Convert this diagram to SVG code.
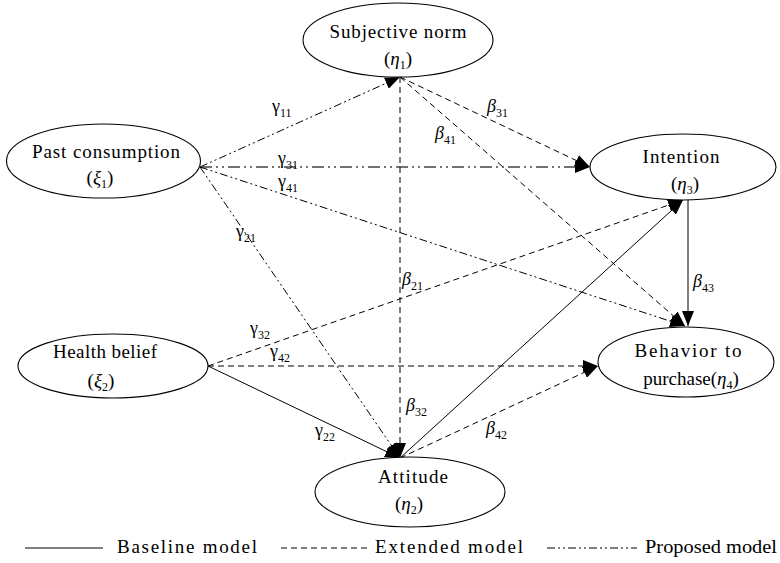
<svg xmlns="http://www.w3.org/2000/svg" width="780" height="563" viewBox="0 0 780 563">
<style>
.node ellipse{fill:#fff;stroke:#000;stroke-width:1.1}
text{font-family:"Liberation Serif","Times New Roman",serif;fill:#000}
.t{font-size:19px;text-anchor:middle}
.g{font-size:18px}
.s{font-size:12px}
.it{font-style:italic}
.c{fill:none;stroke:#000;stroke-width:1}
.solid{}
.dash{stroke-dasharray:6 4}
.dd{stroke-dasharray:8 3 2 3 2 3}
.ddh{stroke-dasharray:12 4 2 4 2 4;stroke:#444;stroke-width:1.6}
.arr{marker-end:url(#ah)}
</style>
<defs>
<marker id="ah" markerUnits="userSpaceOnUse" markerWidth="16" markerHeight="12" refX="15" refY="6" orient="auto">
<path d="M0,0 L15,6 L0,12 z" fill="#000"/>
</marker>
</defs>
<rect width="780" height="563" fill="#fff"/>

<g id="connectors">
<line class="c dd arr" x1="200" y1="167" x2="400" y2="77"/>
<line class="c ddh arr" x1="200" y1="167" x2="590" y2="167"/>
<line class="c dd arr" x1="200" y1="167" x2="685" y2="326"/>
<line class="c dd arr" x1="200" y1="167" x2="400" y2="458"/>
<line class="c dash arr" x1="400" y1="77" x2="400" y2="458"/>
<line class="c dash arr" x1="400" y1="77" x2="590" y2="167"/>
<line class="c dash arr" x1="400" y1="77" x2="685" y2="326"/>
<line class="c dash arr" x1="208" y1="366" x2="683" y2="200"/>
<line class="c dash arr" x1="208" y1="366" x2="598" y2="366"/>
<line class="c solid arr" x1="208" y1="366" x2="400" y2="458"/>
<line class="c solid arr" x1="400" y1="458" x2="683" y2="200"/>
<line class="c dash arr" x1="400" y1="458" x2="598" y2="366"/>
<line class="c solid arr" x1="688" y1="200" x2="688" y2="326"/>
</g>

<g id="labels">
<text class="g" x="272" y="112">γ<tspan class="s" dy="5">11</tspan></text>
<text class="g" x="278" y="164">γ<tspan class="s" dy="5">31</tspan></text>
<text class="g" x="278" y="187">γ<tspan class="s" dy="5">41</tspan></text>
<text class="g" x="236" y="237">γ<tspan class="s" dy="5">21</tspan></text>
<text class="g it" x="435" y="139">β<tspan class="s" dy="5" font-style="normal">41</tspan></text>
<text class="g it" x="487" y="112">β<tspan class="s" dy="5" font-style="normal">31</tspan></text>
<text class="g it" x="402" y="285">β<tspan class="s" dy="5" font-style="normal">21</tspan></text>
<text class="g" x="250" y="334">γ<tspan class="s" dy="5">32</tspan></text>
<text class="g" x="270" y="357">γ<tspan class="s" dy="5">42</tspan></text>
<text class="g" x="315" y="436">γ<tspan class="s" dy="5">22</tspan></text>
<text class="g it" x="406" y="411">β<tspan class="s" dy="5" font-style="normal">32</tspan></text>
<text class="g it" x="486" y="434">β<tspan class="s" dy="5" font-style="normal">42</tspan></text>
<text class="g it" x="693" y="287">β<tspan class="s" dy="5" font-style="normal">43</tspan></text>
</g>

<g id="subjective-norm" class="node">
<ellipse cx="398" cy="40" rx="95" ry="37"/>
<text class="t" x="398" y="38" textLength="137" lengthAdjust="spacing">Subjective norm</text>
<text class="t" x="398" y="65">(<tspan class="it">η</tspan><tspan class="s" dy="4">1</tspan><tspan dy="-4">)</tspan></text>
</g>

<g id="past-consumption" class="node">
<ellipse cx="103.5" cy="161" rx="97" ry="37"/>
<text class="t" x="106" y="158" textLength="148" lengthAdjust="spacing">Past consumption</text>
<text class="t" x="100" y="184">(<tspan class="it">ξ</tspan><tspan class="s" dy="4">1</tspan><tspan dy="-4">)</tspan></text>
</g>

<g id="intention" class="node">
<ellipse cx="683" cy="167" rx="93" ry="33"/>
<text class="t" x="681" y="163" textLength="77" lengthAdjust="spacing">Intention</text>
<text class="t" x="685" y="190">(<tspan class="it">η</tspan><tspan class="s" dy="4">3</tspan><tspan dy="-4">)</tspan></text>
</g>

<g id="health-belief" class="node">
<ellipse cx="113" cy="366" rx="95" ry="32"/>
<text class="t" x="105" y="358" textLength="104" lengthAdjust="spacing">Health belief</text>
<text class="t" x="101" y="387">(<tspan class="it">ξ</tspan><tspan class="s" dy="4">2</tspan><tspan dy="-4">)</tspan></text>
</g>

<g id="behavior" class="node">
<ellipse cx="686" cy="362" rx="88" ry="35"/>
<text class="t" x="688" y="357" textLength="107" lengthAdjust="spacing">Behavior to</text>
<text class="t" x="691" y="385">purchase(<tspan class="it">η</tspan><tspan class="s" dy="4">4</tspan><tspan dy="-4">)</tspan></text>
</g>

<g id="attitude" class="node">
<ellipse cx="410" cy="492" rx="95" ry="35"/>
<text class="t" x="413" y="483" textLength="70" lengthAdjust="spacing">Attitude</text>
<text class="t" x="409" y="510">(<tspan class="it">η</tspan><tspan class="s" dy="4">2</tspan><tspan dy="-4">)</tspan></text>
</g>

<g id="legend">
<line class="c solid" x1="25" y1="548" x2="103" y2="548"/>
<text class="t" x="187" y="553" textLength="140" lengthAdjust="spacing">Baseline model</text>
<line class="c dash" x1="281" y1="548" x2="368" y2="548"/>
<text class="t" x="449" y="553" textLength="148" lengthAdjust="spacing">Extended model</text>
<line class="c dd" x1="547" y1="548" x2="637" y2="548"/>
<text x="645" y="553" font-size="19" textLength="132" lengthAdjust="spacingAndGlyphs">Proposed model</text>
</g>
</svg>
